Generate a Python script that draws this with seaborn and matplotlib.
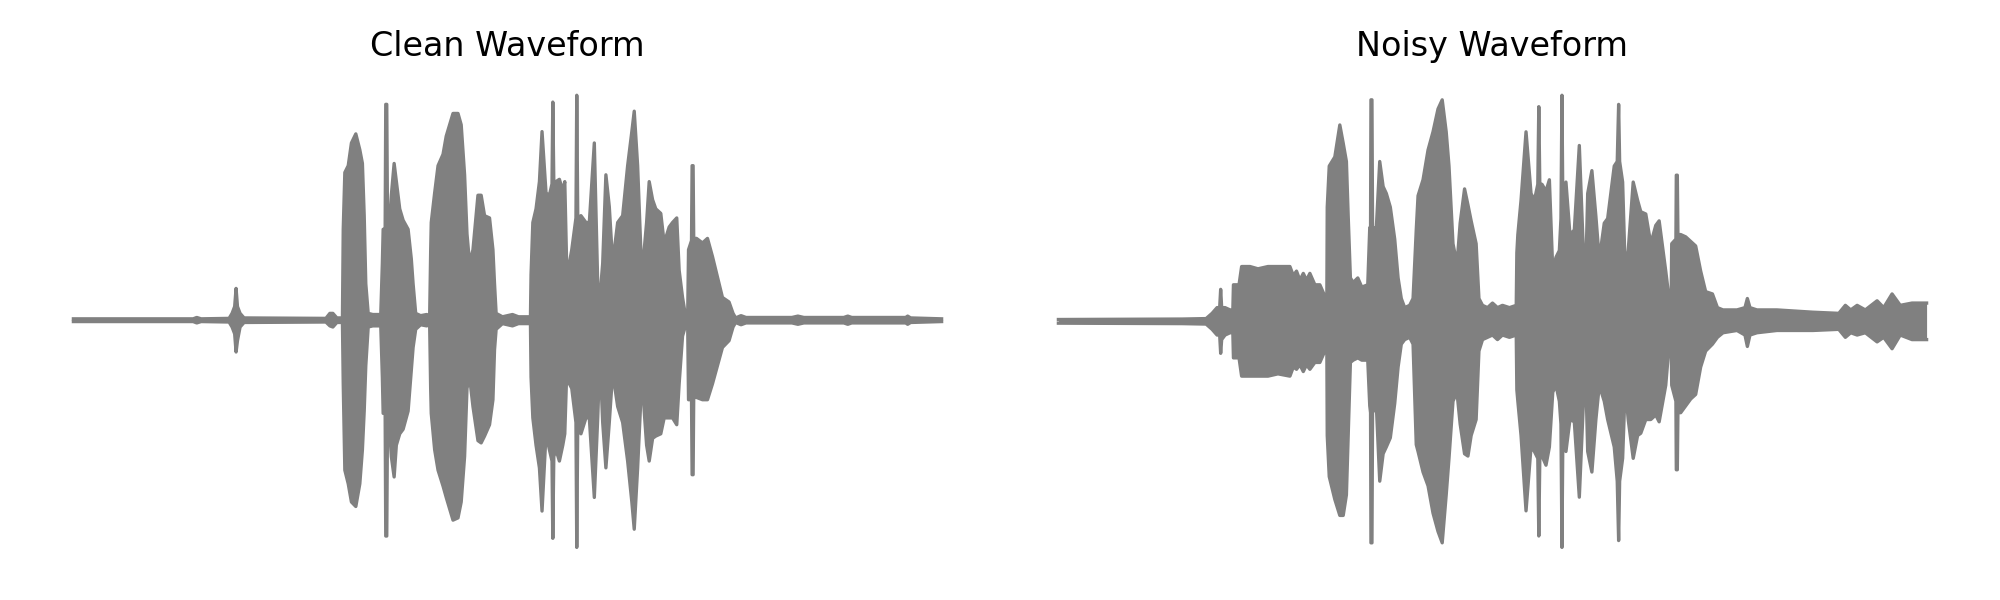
import pandas as pd
import matplotlib
matplotlib.use('Agg')
import matplotlib.pyplot as plt
import seaborn as sns

# Waveform envelopes: time (s), upper peak and lower peak amplitude
clean_time = [0.000, 0.600, 0.618, 0.640, 0.780, 0.795, 0.808, 0.815, 0.822, 0.835,
              0.855, 1.265, 1.285, 1.300, 1.320, 1.348, 1.352, 1.360, 1.377, 1.393,
              1.415, 1.435, 1.448, 1.457, 1.465, 1.477, 1.500, 1.540, 1.548, 1.552,
              1.562, 1.565, 1.570, 1.574, 1.582, 1.593, 1.607, 1.618, 1.635, 1.652,
              1.677, 1.693, 1.702, 1.715, 1.740, 1.770, 1.785, 1.790, 1.793, 1.810,
              1.827, 1.852, 1.868, 1.902, 1.927, 1.943, 1.960, 1.972, 1.985, 2.002,
              2.027, 2.043, 2.060, 2.085, 2.102, 2.110, 2.118, 2.150, 2.200, 2.230,
              2.290, 2.293, 2.302, 2.318, 2.335, 2.348, 2.368, 2.385, 2.398, 2.402,
              2.407, 2.418, 2.435, 2.452, 2.462, 2.472, 2.485, 2.497, 2.518, 2.522,
              2.527, 2.543, 2.568, 2.585, 2.610, 2.627, 2.638, 2.652, 2.668, 2.685,
              2.702, 2.727, 2.752, 2.777, 2.798, 2.810, 2.827, 2.843, 2.852, 2.860,
              2.872, 2.885, 2.902, 2.918, 2.943, 2.960, 2.985, 3.002, 3.023, 3.035,
              3.052, 3.065, 3.078, 3.082, 3.097, 3.100, 3.105, 3.108, 3.122, 3.152,
              3.177, 3.202, 3.227, 3.252, 3.285, 3.305, 3.318, 3.345, 3.370, 3.600,
              3.630, 3.660, 3.860, 3.880, 3.900, 4.170, 4.180, 4.195, 4.350]
clean_upper = [0.006, 0.006, 0.012, 0.006, 0.008, 0.03, 0.06, 0.14, 0.06, 0.03,
               0.01, 0.008, 0.03, 0.03, 0.01, 0.01, 0.40, 0.65, 0.68, 0.78,
               0.82, 0.75, 0.69, 0.46, 0.16, 0.03, 0.025, 0.025, 0.25, 0.40,
               0.40, 0.95, 0.95, 0.40, 0.40, 0.55, 0.69, 0.61, 0.49, 0.44,
               0.40, 0.27, 0.16, 0.03, 0.02, 0.025, 0.02, 0.30, 0.43, 0.56,
               0.68, 0.73, 0.81, 0.91, 0.91, 0.86, 0.64, 0.38, 0.25, 0.31,
               0.55, 0.55, 0.46, 0.45, 0.31, 0.16, 0.03, 0.015, 0.025, 0.015,
               0.015, 0.20, 0.43, 0.49, 0.61, 0.83, 0.56, 0.55, 0.60, 0.96,
               0.61, 0.61, 0.62, 0.57, 0.61, 0.22, 0.25, 0.31, 0.45, 0.99,
               0.45, 0.46, 0.43, 0.43, 0.78, 0.16, 0.10, 0.25, 0.64, 0.50,
               0.25, 0.43, 0.46, 0.68, 0.83, 0.92, 0.68, 0.31, 0.13, 0.31,
               0.43, 0.61, 0.53, 0.49, 0.47, 0.34, 0.41, 0.43, 0.45, 0.22,
               0.10, 0.03, 0.03, 0.31, 0.35, 0.68, 0.68, 0.36, 0.36, 0.34,
               0.36, 0.28, 0.19, 0.10, 0.08, 0.03, 0.01, 0.02, 0.012, 0.012,
               0.018, 0.012, 0.012, 0.018, 0.012, 0.012, 0.018, 0.010, 0.006]
clean_lower = [-0.006, -0.006, -0.012, -0.006, -0.008, -0.03, -0.06, -0.14, -0.09, -0.03,
               -0.01, -0.008, -0.025, -0.03, -0.01, -0.01, -0.28, -0.66, -0.72, -0.80,
               -0.82, -0.72, -0.57, -0.40, -0.20, -0.03, -0.025, -0.025, -0.25, -0.41,
               -0.41, -0.95, -0.95, -0.41, -0.45, -0.60, -0.69, -0.55, -0.50, -0.48,
               -0.40, -0.22, -0.12, -0.04, -0.02, -0.025, -0.02, -0.30, -0.41, -0.57,
               -0.66, -0.73, -0.78, -0.88, -0.87, -0.80, -0.60, -0.30, -0.25, -0.38,
               -0.53, -0.54, -0.51, -0.46, -0.35, -0.13, -0.04, -0.015, -0.025, -0.015,
               -0.015, -0.25, -0.43, -0.55, -0.65, -0.84, -0.50, -0.57, -0.62, -0.96,
               -0.60, -0.57, -0.62, -0.55, -0.50, -0.22, -0.28, -0.30, -0.45, -1.00,
               -0.45, -0.50, -0.43, -0.43, -0.78, -0.43, -0.16, -0.45, -0.65, -0.45,
               -0.23, -0.38, -0.45, -0.62, -0.80, -0.92, -0.65, -0.35, -0.25, -0.40,
               -0.55, -0.62, -0.52, -0.51, -0.50, -0.43, -0.43, -0.43, -0.46, -0.28,
               -0.07, -0.03, -0.03, -0.35, -0.35, -0.68, -0.68, -0.34, -0.34, -0.35,
               -0.35, -0.28, -0.20, -0.12, -0.09, -0.03, -0.01, -0.02, -0.012, -0.012,
               -0.018, -0.012, -0.012, -0.018, -0.012, -0.012, -0.018, -0.010, -0.006]

noisy_time = [0.000, 0.620, 0.740, 0.770, 0.795, 0.808, 0.813, 0.818, 0.835, 0.860,
              0.874, 0.877, 0.905, 0.918, 0.960, 1.000, 1.050, 1.100, 1.160, 1.177,
              1.193, 1.210, 1.227, 1.243, 1.260, 1.285, 1.310, 1.335, 1.345, 1.347,
              1.357, 1.385, 1.410, 1.427, 1.443, 1.452, 1.463, 1.477, 1.500, 1.520,
              1.550, 1.560, 1.564, 1.566, 1.571, 1.574, 1.593, 1.610, 1.627, 1.643,
              1.663, 1.685, 1.702, 1.718, 1.735, 1.760, 1.777, 1.793, 1.802, 1.827,
              1.852, 1.877, 1.902, 1.923, 1.943, 1.957, 1.977, 1.997, 2.013, 2.035,
              2.052, 2.068, 2.093, 2.107, 2.125, 2.150, 2.175, 2.200, 2.225, 2.260,
              2.294, 2.297, 2.302, 2.318, 2.343, 2.368, 2.385, 2.402, 2.407, 2.412,
              2.423, 2.443, 2.460, 2.477, 2.493, 2.510, 2.518, 2.523, 2.528, 2.543,
              2.563, 2.585, 2.610, 2.627, 2.640, 2.652, 2.673, 2.693, 2.710, 2.735,
              2.752, 2.785, 2.800, 2.807, 2.812, 2.827, 2.840, 2.855, 2.880, 2.902,
              2.918, 2.943, 2.968, 2.993, 3.010, 3.043, 3.063, 3.070, 3.073, 3.094,
              3.096, 3.101, 3.104, 3.118, 3.143, 3.168, 3.193, 3.218, 3.243, 3.277,
              3.302, 3.330, 3.400, 3.440, 3.452, 3.465, 3.500, 3.600, 3.780, 3.910,
              3.943, 3.970, 4.002, 4.043, 4.102, 4.135, 4.177, 4.218, 4.277, 4.350]
noisy_upper = [0.008, 0.010, 0.012, 0.035, 0.06, 0.06, 0.14, 0.06, 0.06, 0.05,
               0.05, 0.16, 0.16, 0.24, 0.24, 0.23, 0.24, 0.24, 0.24, 0.20,
               0.22, 0.18, 0.21, 0.18, 0.21, 0.16, 0.16, 0.11, 0.10, 0.50,
               0.68, 0.72, 0.86, 0.78, 0.70, 0.46, 0.19, 0.17, 0.19, 0.15,
               0.16, 0.41, 0.41, 0.97, 0.97, 0.41, 0.41, 0.70, 0.59, 0.56,
               0.50, 0.36, 0.19, 0.10, 0.06, 0.07, 0.10, 0.40, 0.55, 0.62,
               0.75, 0.83, 0.93, 0.97, 0.83, 0.68, 0.34, 0.25, 0.43, 0.58,
               0.51, 0.44, 0.34, 0.10, 0.07, 0.06, 0.08, 0.06, 0.07, 0.06,
               0.07, 0.30, 0.38, 0.53, 0.83, 0.56, 0.53, 0.60, 0.94, 0.60,
               0.60, 0.57, 0.62, 0.22, 0.28, 0.31, 0.45, 0.99, 0.45, 0.61,
               0.38, 0.40, 0.77, 0.38, 0.13, 0.56, 0.66, 0.46, 0.27, 0.43,
               0.45, 0.68, 0.70, 0.95, 0.70, 0.61, 0.22, 0.31, 0.61, 0.53,
               0.48, 0.47, 0.34, 0.42, 0.44, 0.22, 0.075, 0.07, 0.34, 0.36,
               0.64, 0.64, 0.38, 0.38, 0.37, 0.35, 0.33, 0.22, 0.13, 0.12,
               0.06, 0.05, 0.05, 0.06, 0.10, 0.06, 0.05, 0.05, 0.04, 0.035,
               0.07, 0.05, 0.07, 0.05, 0.09, 0.06, 0.12, 0.07, 0.08, 0.08]
noisy_lower = [-0.008, -0.010, -0.012, -0.035, -0.06, -0.06, -0.14, -0.08, -0.06, -0.05,
               -0.05, -0.16, -0.16, -0.24, -0.24, -0.24, -0.24, -0.23, -0.24, -0.20,
               -0.21, -0.19, -0.22, -0.19, -0.21, -0.18, -0.18, -0.13, -0.12, -0.50,
               -0.68, -0.78, -0.85, -0.85, -0.76, -0.50, -0.18, -0.17, -0.16, -0.17,
               -0.17, -0.37, -0.40, -0.97, -0.97, -0.40, -0.37, -0.70, -0.58, -0.55,
               -0.51, -0.36, -0.20, -0.10, -0.08, -0.07, -0.10, -0.54, -0.57, -0.66,
               -0.72, -0.84, -0.92, -0.97, -0.76, -0.60, -0.35, -0.31, -0.45, -0.58,
               -0.59, -0.50, -0.43, -0.13, -0.08, -0.07, -0.06, -0.08, -0.06, -0.07,
               -0.06, -0.30, -0.35, -0.50, -0.83, -0.55, -0.57, -0.60, -0.94, -0.60,
               -0.59, -0.63, -0.55, -0.31, -0.28, -0.35, -0.45, -0.99, -0.45, -0.57,
               -0.43, -0.44, -0.77, -0.43, -0.16, -0.57, -0.66, -0.43, -0.28, -0.35,
               -0.43, -0.55, -0.70, -0.96, -0.70, -0.60, -0.28, -0.43, -0.60, -0.50,
               -0.49, -0.43, -0.43, -0.41, -0.44, -0.28, -0.07, -0.07, -0.28, -0.35,
               -0.65, -0.65, -0.40, -0.40, -0.37, -0.34, -0.32, -0.20, -0.13, -0.10,
               -0.07, -0.05, -0.04, -0.06, -0.11, -0.06, -0.05, -0.04, -0.04, -0.035,
               -0.07, -0.05, -0.06, -0.05, -0.09, -0.07, -0.12, -0.06, -0.08, -0.08]

titles = ['Clean Waveform', 'Noisy Waveform']

fig, axes = plt.subplots(1, 2, figsize=(10, 3), dpi=200)

panels = [(clean_time, clean_upper, clean_lower), (noisy_time, noisy_upper, noisy_lower)]
for ax, (t, up, lo), title in zip(axes, panels, titles):
    df = pd.DataFrame({'time': t, 'upper': up, 'lower': lo})
    ax.fill_between(df['time'], df['lower'], df['upper'], color='gray', lw=0)
    sns.lineplot(data=df, x='time', y='upper', ax=ax, color='gray', lw=1.2)
    sns.lineplot(data=df, x='time', y='lower', ax=ax, color='gray', lw=1.2)
    ax.set_title(title)
    ax.axis('off')

plt.tight_layout()
plt.savefig('out.png')
